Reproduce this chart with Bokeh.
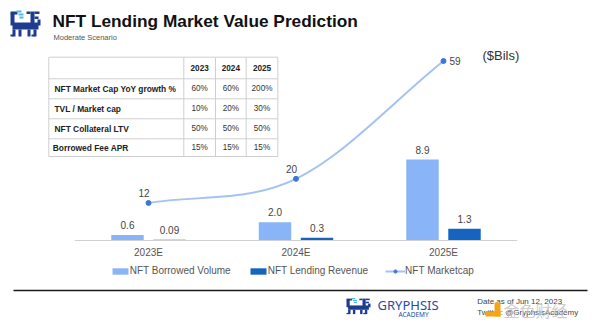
from bokeh.plotting import figure
from bokeh.models import Range1d, Legend, LegendItem, ColumnDataSource
from bokeh.core.properties import value
from bokeh.embed import file_html
from bokeh.resources import INLINE

# ---------------- data ----------------
categories = ["2023E", "2024E", "2025E"]
borrowed_volume = [0.6, 2.0, 8.9]
lending_revenue = [0.09, 0.3, 1.3]
marketcap = [12, 20, 59]
borrowed_labels = ["0.6", "2.0", "8.9"]
revenue_labels = ["0.09", "0.3", "1.3"]
marketcap_labels = ["12", "20", "59"]

table_years = ["2023", "2024", "2025"]
table_rows = ["NFT Market Cap YoY growth %", "TVL / Market cap",
              "NFT Collateral LTV", "Borrowed Fee APR"]
table_growth = ["60%", "60%", "200%"]
table_tvl = ["10%", "20%", "30%"]
table_ltv = ["50%", "50%", "50%"]
table_apr = ["15%", "15%", "15%"]
table_values = [table_growth, table_tvl, table_ltv, table_apr]

# ---------------- layout ----------------
W, H = 600, 335
FONT_NAME = "Liberation Sans"
FONT = value(FONT_NAME)
CAT0_PX, CAT_STEP = 148.0, 147.5
BASE_PX, BAR_SCALE = 240.0, 9.1
LINE_BASE_PX, LINE_SCALE = 238.7, 3.02
BAR_W, BAR_OFF = 0.22, 0.1424

LIGHT = "#8AB4F8"
DARK = "#1565C0"
LINE_C = "#A4C2F4"
DOT_C = "#3C78D8"

p = figure(width=W, height=H, output_backend="svg", toolbar_location=None,
           min_border=0, x_range=Range1d(0, W), y_range=Range1d(H, 0),
           x_axis_location=None, y_axis_location=None,
           outline_line_color=None, background_fill_color="white",
           border_fill_color="white")
p.grid.visible = False

p.extra_x_ranges = {"cx": Range1d(-CAT0_PX / CAT_STEP, (W - CAT0_PX) / CAT_STEP)}
p.extra_y_ranges = {
    "by": Range1d(-(H - BASE_PX) / BAR_SCALE, BASE_PX / BAR_SCALE),
    "ly": Range1d(-(H - LINE_BASE_PX) / LINE_SCALE, LINE_BASE_PX / LINE_SCALE),
}

idx = list(range(len(categories)))
n = len(idx)

# ---------------- title ----------------
p.text(x=[52], y=[20.5], text=["NFT Lending Market Value Prediction"],
       text_font=FONT, text_font_size="17.3px", text_font_style="bold",
       text_color="#111111", text_baseline="middle")
p.text(x=[53], y=[37], text=["Moderate Scenario"], text_font=FONT,
       text_font_size="7.5px", text_color="#555555", text_baseline="middle")

# ---------------- logo ----------------
NAVY, CYAN = "#1d3c8f", "#52b9e6"
logo_parts = [
    (0, 3, 4, 12, NAVY), (0, 1, 7, 3, NAVY),
    (6, 0, 5, 2, CYAN), (8, 3, 5, 2, CYAN), (9, 6, 4, 2, CYAN),
    (20, 1, 4, 15, NAVY), (24, 1, 5, 2.5, NAVY), (24, 6, 4, 2.5, NAVY),
    (16, 1, 4, 2.5, NAVY),
    (2, 12, 26, 7, NAVY), (27, 9, 3, 6, NAVY),
    (2, 19, 3, 7, NAVY), (8, 19, 3, 7, NAVY), (17, 19, 3, 7, NAVY), (23, 19, 3, 7, NAVY),
    (0, 24, 3, 2, NAVY), (21, 24, 3, 2, NAVY),
]


def draw_logo(ox, oy, sx, sy):
    p.quad(left=[ox + a * sx for a, b, w, h, c in logo_parts],
           right=[ox + (a + w) * sx for a, b, w, h, c in logo_parts],
           top=[oy + b * sy for a, b, w, h, c in logo_parts],
           bottom=[oy + (b + h) * sy for a, b, w, h, c in logo_parts],
           fill_color=[c for a, b, w, h, c in logo_parts], line_color=None)


draw_logo(10, 10, 1.0, 1.0)
draw_logo(346, 297.5, 0.8, 0.62)

# ---------------- table ----------------
T_LEFT, T_RIGHT = 48.3, 277.3
col_edges = [T_LEFT, 183.3, 215.0, 245.7, T_RIGHT]
row_edges = [56.7, 78.3, 98.3, 118.3, 138.3, 156.0]
GRID_C = "#cfcfcf"
p.segment(x0=[T_LEFT] * len(row_edges), x1=[T_RIGHT] * len(row_edges),
          y0=row_edges, y1=row_edges, line_color=GRID_C, line_width=1)
p.segment(x0=col_edges, x1=col_edges, y0=[row_edges[0]] * len(col_edges),
          y1=[row_edges[-1]] * len(col_edges), line_color=GRID_C, line_width=1)
col_centers = [(col_edges[i + 1] + col_edges[i + 2]) / 2 for i in range(len(table_years))]
row_centers = [(row_edges[i] + row_edges[i + 1]) / 2 for i in range(len(row_edges) - 1)]
p.text(x=col_centers, y=[row_centers[0]] * len(table_years), text=table_years,
       text_font=FONT, text_font_size="8.2px", text_font_style="bold",
       text_color="#222222", text_align="center", text_baseline="middle")
label_x = [54, 54, 54, 52.3]
p.text(x=label_x, y=row_centers[1:], text=table_rows, text_font=FONT,
       text_font_size="8.4px", text_font_style="bold", text_color="#222222",
       text_baseline="middle")
for r, vals in enumerate(table_values):
    p.text(x=col_centers, y=[row_centers[r + 1]] * len(vals), text=vals,
           text_font=FONT, text_font_size="8.2px", text_color="#333333",
           text_align="center", text_baseline="middle")

# ---------------- chart ----------------
x_light = [i - BAR_OFF for i in idx]
x_dark = [i + BAR_OFF for i in idx]
r_light = p.vbar(x=x_light, top=borrowed_volume, bottom=0, width=BAR_W,
                 fill_color=LIGHT, line_color=None,
                 x_range_name="cx", y_range_name="by")
r_dark = p.vbar(x=x_dark, top=lending_revenue, bottom=0, width=BAR_W,
                fill_color=DARK, line_color=None,
                x_range_name="cx", y_range_name="by")

# baseline
p.segment(x0=[-0.5], x1=[n - 0.5], y0=[0], y1=[0], line_color="#d0d0d0",
          line_width=1, x_range_name="cx", y_range_name="by")
p.text(x=idx, y=[0] * n, text=categories, y_offset=12, text_font=FONT,
       text_font_size="10px", text_color="#555555", text_align="center",
       text_baseline="middle", x_range_name="cx", y_range_name="by")

# bar labels
p.text(x=x_light, y=borrowed_volume, text=borrowed_labels, y_offset=-10,
       text_font=FONT, text_font_size="10px", text_color="#444444",
       text_align="center", text_baseline="middle",
       x_range_name="cx", y_range_name="by")
p.text(x=x_dark, y=lending_revenue, text=revenue_labels, y_offset=-10,
       text_font=FONT, text_font_size="10px", text_color="#444444",
       text_align="center", text_baseline="middle",
       x_range_name="cx", y_range_name="by")


# smooth market-cap curve (cubic Bezier through the data points)
def tangent(i):
    if i == 0:
        return idx[1] - idx[0], marketcap[1] - marketcap[0]
    if i == n - 1:
        return idx[-1] - idx[-2], marketcap[-1] - marketcap[-2]
    return (idx[i + 1] - idx[i - 1]) / 2, (marketcap[i + 1] - marketcap[i - 1]) / 2


bz = dict(x0=[], y0=[], x1=[], y1=[], cx0=[], cy0=[], cx1=[], cy1=[])
for i in range(n - 1):
    t0, t1 = tangent(i), tangent(i + 1)
    bz["x0"].append(idx[i]); bz["y0"].append(marketcap[i])
    bz["x1"].append(idx[i + 1]); bz["y1"].append(marketcap[i + 1])
    bz["cx0"].append(idx[i] + t0[0] / 3); bz["cy0"].append(marketcap[i] + t0[1] / 3)
    bz["cx1"].append(idx[i + 1] - t1[0] / 3); bz["cy1"].append(marketcap[i + 1] - t1[1] / 3)
r_curve = p.bezier(source=ColumnDataSource(bz), x0="x0", y0="y0", x1="x1", y1="y1",
                   cx0="cx0", cy0="cy0", cx1="cx1", cy1="cy1",
                   line_color=LINE_C, line_width=2,
                   x_range_name="cx", y_range_name="ly")
r_dots = p.scatter(x=idx, y=marketcap, size=5, fill_color=DOT_C, line_color=DOT_C,
                   x_range_name="cx", y_range_name="ly")

# market-cap labels: above-left for inner points, right for the last one
p.text(x=idx[:-1], y=marketcap[:-1], text=marketcap_labels[:-1], x_offset=1,
       y_offset=-10, text_font=FONT, text_font_size="10px", text_color="#444444",
       text_align="right", text_baseline="middle",
       x_range_name="cx", y_range_name="ly")
p.text(x=idx[-1:], y=marketcap[-1:], text=marketcap_labels[-1:], x_offset=6,
       y_offset=0, text_font=FONT, text_font_size="10px", text_color="#444444",
       text_align="left", text_baseline="middle",
       x_range_name="cx", y_range_name="ly")

p.text(x=[482], y=[55], text=["($Bils)"], text_font=FONT, text_font_size="13px",
       text_color="#333333", text_baseline="middle")

# legend
legend = Legend(items=[
    LegendItem(label="NFT Borrowed Volume", renderers=[r_light]),
    LegendItem(label="NFT Lending Revenue", renderers=[r_dark]),
    LegendItem(label="NFT Marketcap", renderers=[r_curve, r_dots]),
], orientation="horizontal", location=(109.7, 58.3), glyph_width=20,
    glyph_height=8, label_height=12, label_standoff=0, spacing=17, padding=0,
    margin=0, border_line_color=None, background_fill_alpha=0,
    label_text_font=FONT_NAME, label_text_font_size="10px", label_text_color="#555555")
p.add_layout(legend, "center")

# ---------------- footer ----------------
p.segment(x0=[13], x1=[587], y0=[290], y1=[290], line_color="#1a1a1a", line_width=1.5)
p.text(x=[377], y=[304], text=["GRYPHSIS"], text_font=value("Noto Sans"),
       text_font_size="13px", text_color="#2a4aa0", text_baseline="middle")
p.text(x=[413], y=[313.5], text=["ACADEMY"], text_font=value("Noto Sans"),
       text_font_size="6.5px", text_color="#2a4aa0", text_align="center",
       text_baseline="middle")
p.text(x=[476.7], y=[301.3], text=["Date as of Jun 12, 2023"], text_font=FONT,
       text_font_size="8px", text_color="#444444", text_baseline="middle")
p.text(x=[476.7], y=[311.5], text=["Twitter: @GryphsisAcademy"], text_font=FONT,
       text_font_size="8px", text_color="#444444", text_baseline="middle")
# watermark
p.quad(left=[494, 485], right=[500, 500], top=[302, 311], bottom=[316, 316],
       fill_color="#f2a516", line_color=None)
p.text(x=[503], y=[309.5], text=["金色财经"], text_font=value("Noto Sans CJK SC"),
       text_font_size="16px", text_color="#c4c4c4", text_alpha=0.85,
       text_baseline="middle")

open("out.html", "w").write(file_html(p, INLINE))
